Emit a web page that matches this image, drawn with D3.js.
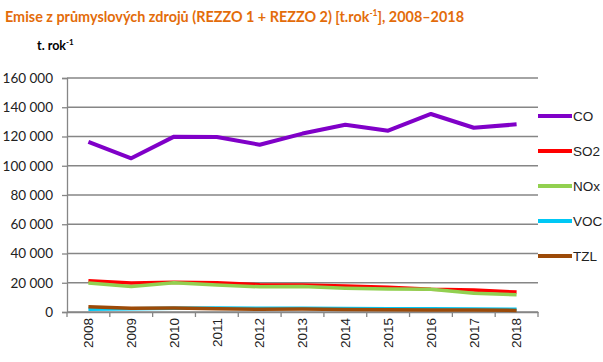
<!DOCTYPE html>
<html>
<head>
<meta charset="utf-8">
<script src="https://cdn.jsdelivr.net/npm/d3@7"></script>
<style>
  body { margin: 0; background: #fff; }
  svg { display: block; }
</style>
</head>
<body>
<svg id="chart" width="603" height="362"></svg>
<script>
// data
var years = ["2008","2009","2010","2011","2012","2013","2014","2015","2016","2017","2018"]
var co  = [116400, 105100, 119900, 119600, 114400, 122000, 128000, 124000, 135400, 126000, 128300]
var so2 = [21400, 19800, 20400, 20000, 18600, 18400, 17800, 17000, 15600, 15000, 13600]
var nox = [19800, 17400, 20000, 18500, 17200, 17400, 16300, 15800, 15600, 12900, 11800]
var voc = [1800, 2200, 2600, 2700, 2600, 2500, 2400, 2300, 2200, 2100, 1900]
var tzl = [3600, 2600, 2700, 2300, 1900, 2100, 1700, 1500, 1400, 1300, 1100]
var seriesNames = ["CO", "SO2", "NOx", "VOC", "TZL"]
var seriesColors = ["#8000C8", "#FF0000", "#92D050", "#00C8F5", "#9C4A08"]
var yTicks = [0, 20000, 40000, 60000, 80000, 100000, 120000, 140000, 160000]

var allSeries = [co, so2, nox, voc, tzl]

var svg = d3.select("#chart")
// plot box (don't use "top" - it's window.top)
var plotL = 67, plotR = 538, plotT = 78, plotB = 312

// title
svg.append("text")
  .attr("x", 5).attr("y", 22)
  .attr("font-family", "Lato, 'Open Sans', sans-serif")
  .attr("font-weight", "bold")
  .attr("font-size", 14.4)
  .attr("fill", "#E36C0A")
  .html("Emise z průmyslových zdrojů (REZZO 1 + REZZO 2) [t.rok<tspan dy='-6' font-size='8.5'>-1</tspan><tspan dy='6'>], 2008–2018</tspan>")

// unit label
svg.append("text")
  .attr("x", 37).attr("y", 50)
  .attr("font-family", "Lato, 'Open Sans', sans-serif")
  .attr("font-weight", "bold")
  .attr("font-size", 12.5)
  .attr("fill", "#000")
  .html("t. rok<tspan dy='-5' font-size='8'>-1</tspan>")

var x = d3.scaleBand().domain(years).range([plotL, plotR])
var y = d3.scaleLinear().domain([0, 160000]).range([plotB, plotT])

// grid lines
svg.append("g")
  .selectAll("line")
  .data(yTicks)
  .enter()
  .append("line")
  .attr("x1", plotL).attr("x2", plotR)
  .attr("y1", d => y(d)).attr("y2", d => y(d))
  .attr("stroke", "#868686")
  .attr("stroke-width", 1.3)

// y axis
var yAxis = svg.append("g")
  .attr("transform", "translate(" + plotL + ",0)")
  .call(d3.axisLeft(y).tickValues(yTicks).tickSize(5).tickFormat(d => d3.format(",d")(d).replace(/,/g, " ")))
yAxis.select(".domain").attr("stroke", "#868686").attr("stroke-width", 1.3)
yAxis.selectAll(".tick line").attr("stroke", "#868686").attr("stroke-width", 1.3)
yAxis.selectAll(".tick text")
  .attr("x", -14)
  .attr("font-family", "Lato, 'Open Sans', sans-serif")
  .attr("font-size", 13.5)
  .attr("fill", "#222")

// x axis
var xAxis = svg.append("g")
  .attr("transform", "translate(0," + plotB + ")")
  .call(d3.axisBottom(x).tickSize(0))
xAxis.select(".domain").attr("stroke", "#868686").attr("stroke-width", 1.3)
xAxis.selectAll(".tick text")
  .attr("transform", "rotate(-90)")
  .attr("text-anchor", "end")
  .attr("x", -6).attr("y", 0).attr("dy", "0.35em")
  .attr("font-family", "'Liberation Sans', Arial, sans-serif")
  .attr("font-size", 13.5)
  .attr("fill", "#222")
// tick marks at band edges
svg.append("g")
  .selectAll("line")
  .data(years.concat(["end"]))
  .enter()
  .append("line")
  .attr("x1", (d, i) => i < years.length ? x(d) : x(years[years.length - 1]) + x.bandwidth())
  .attr("x2", (d, i) => i < years.length ? x(d) : x(years[years.length - 1]) + x.bandwidth())
  .attr("y1", plotB).attr("y2", plotB + 5)
  .attr("stroke", "#868686")
  .attr("stroke-width", 1.3)

// lines
var line = d3.line()
  .x((d, i) => x(years[i]) + x.bandwidth() / 2)
  .y(d => y(d))

allSeries.forEach(function (s, k) {
  svg.append("path")
    .datum(s)
    .attr("d", line)
    .attr("fill", "none")
    .attr("stroke", seriesColors[k])
    .attr("stroke-width", k == 0 ? 4 : 3.5)
    .attr("stroke-linejoin", "round")
})

// legend
var legend = svg.append("g")
  .selectAll("g")
  .data(seriesNames)
  .enter()
  .append("g")
  .attr("transform", (d, i) => "translate(538," + (116 + i * 35) + ")")
legend.append("line")
  .attr("x1", 0).attr("x2", 34)
  .attr("stroke", (d, i) => seriesColors[i])
  .attr("stroke-width", 4)
legend.append("text")
  .attr("x", 35).attr("dy", "0.35em")
  .attr("font-family", "'Liberation Sans', Arial, sans-serif")
  .attr("font-size", 13.5)
  .attr("fill", "#222")
  .text(d => d)
</script>
</body>
</html>
